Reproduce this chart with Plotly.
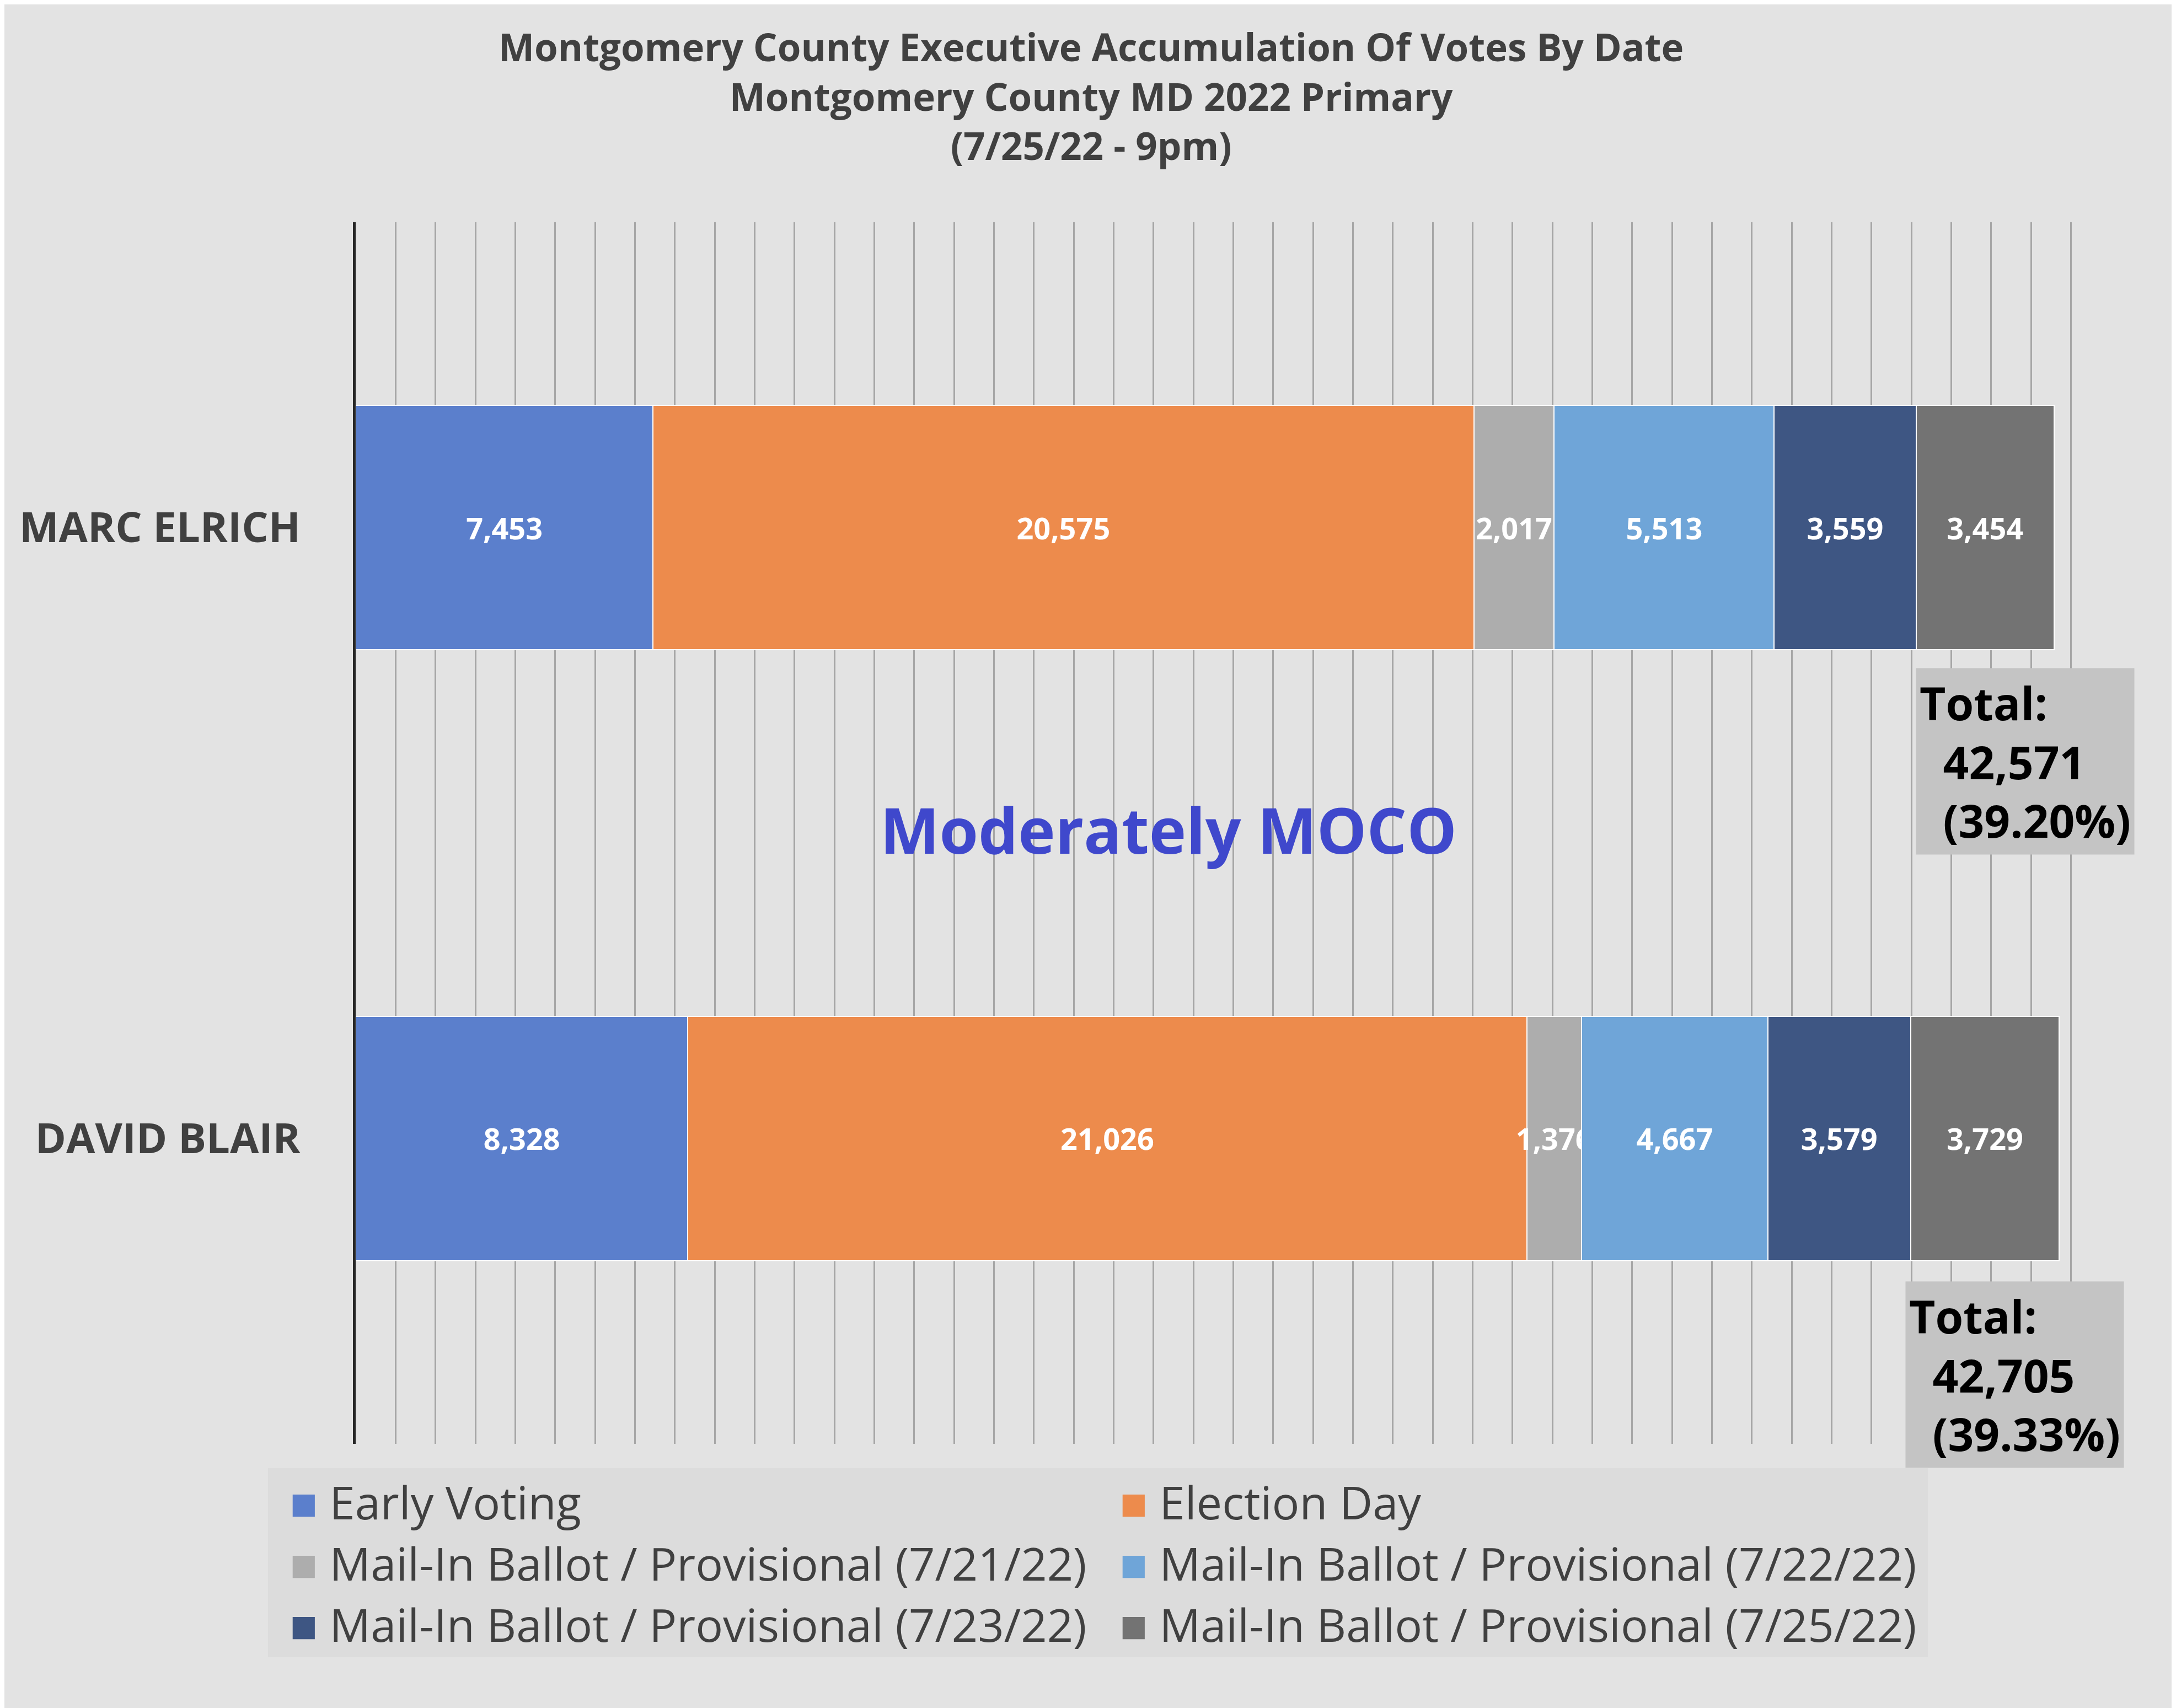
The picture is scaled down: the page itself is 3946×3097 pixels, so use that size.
import plotly.graph_objects as go

candidates = ["MARC ELRICH", "DAVID BLAIR"]
series = ["Early Voting", "Election Day",
          "Mail-In Ballot / Provisional (7/21/22)", "Mail-In Ballot / Provisional (7/22/22)",
          "Mail-In Ballot / Provisional (7/23/22)", "Mail-In Ballot / Provisional (7/25/22)"]
elrich = [7453, 20575, 2017, 5513, 3559, 3454]
blair = [8328, 21026, 1376, 4667, 3579, 3729]
totals = ["42,571", "42,705"]
pcts = ["39.20%", "39.33%"]
colors = ["#5b7fcc", "#ed8b4c", "#adadad", "#6fa5d8", "#3e5683", "#737373"]

font = "Open Sans"
fig = go.Figure()
for i, name in enumerate(series):
    vals = [elrich[i], blair[i]]
    fig.add_trace(go.Bar(
        y=candidates, x=vals, name=name, orientation="h", showlegend=False,
        marker=dict(color=colors[i], line=dict(color="white", width=2)),
        text=[f"{v:,}" for v in vals], textposition="inside", textangle=0,
        insidetextanchor="middle", constraintext="none",
        textfont=dict(family=font, size=54, color="white", weight="bold"),
    ))
# legend entries: coloured square glyph in the label, invisible marker
for i, name in enumerate(series):
    fig.add_trace(go.Scatter(
        x=[None], y=[None], mode="markers",
        name=f"<span style='color:{colors[i]}'>■</span> {name}",
        marker=dict(symbol="square", size=1, color="rgba(0,0,0,0)"),
    ))

fig.update_layout(
    width=3946, height=3097, barmode="stack", bargap=0.6,
    paper_bgcolor="#e3e3e3", plot_bgcolor="rgba(0,0,0,0)",
    margin=dict(l=637, r=126, t=395, b=487),
    xaxis=dict(range=[0, 44000], dtick=1000, showticklabels=False,
               showgrid=True, gridcolor="#a6a6a6", gridwidth=3, zeroline=False),
    yaxis=dict(categoryorder="array", categoryarray=candidates[::-1],
               showline=True, linecolor="#262626", linewidth=5,
               ticks="", ticklabelstandoff=80,
               tickfont=dict(family=font, size=76, color="#404040", weight="bold")),
    legend=dict(orientation="h", x=-0.05, y=-0.02, xanchor="left", yanchor="top",
                bgcolor="#dcdcdc", entrywidth=1460, entrywidthmode="pixels",
                traceorder="normal", itemwidth=30,
                font=dict(family=font, size=83, color="#404040")),
    showlegend=True,
)

fig.add_annotation(text="Montgomery County Executive Accumulation Of Votes By Date<br>"
                        "Montgomery County MD 2022 Primary<br>(7/25/22 - 9pm)",
                   xref="paper", yref="paper", x=0.419, y=1.166, xanchor="center",
                   yanchor="top", showarrow=False,
                   font=dict(family=font, size=69, color="#404040", weight="bold"))

fig.add_annotation(text="Moderately MOCO", xref="paper", yref="paper", x=0.463, y=0.503,
                   showarrow=False,
                   font=dict(family=font, size=114, color="#3f48cc", weight="bold"))

box_y = [0.635, 0.133]
box_x = [39100, 38850]
for k in range(2):
    fig.add_annotation(text=f"Total:<br>  {totals[k]}<br>  ({pcts[k]})",
                       xref="x", yref="paper", x=box_x[k], y=box_y[k],
                       xanchor="left", yanchor="top", align="left", showarrow=False,
                       bgcolor="#c4c4c4", borderpad=6,
                       font=dict(family=font, size=82, color="black", weight="bold"))

fig.write_html("out.html")
